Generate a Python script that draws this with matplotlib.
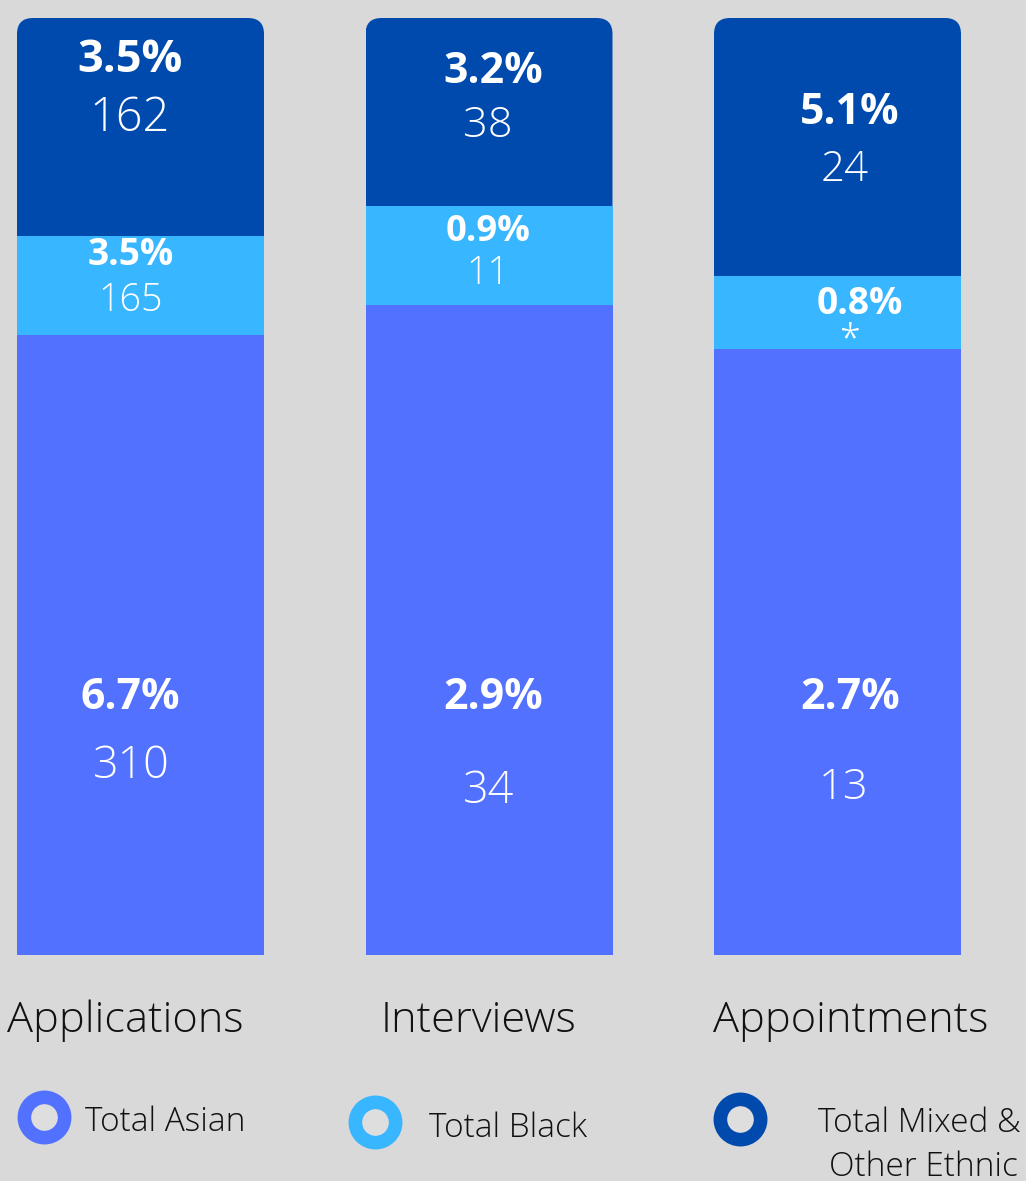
import matplotlib
matplotlib.use("Agg")
import matplotlib.pyplot as plt
from matplotlib.patches import FancyBboxPatch
from matplotlib.transforms import IdentityTransform
from matplotlib import font_manager

# ---------------- data ----------------
stages = ["Applications", "Interviews", "Appointments"]
groups = ["Total Asian", "Total Black", "Total Mixed &\nOther Ethnic"]
# visual segment heights (as drawn in the picture, each bar sums to the same height)
asian_height = [620, 650, 606]
black_height = [99, 99, 73]
mixed_height = [218, 188, 258]
# labels
asian_pct = ["6.7%", "2.9%", "2.7%"]
black_pct = ["3.5%", "0.9%", "0.8%"]
mixed_pct = ["3.5%", "3.2%", "5.1%"]
asian_n = ["310", "34", "13"]
black_n = ["165", "11", "*"]
mixed_n = ["162", "38", "24"]

# ---------------- style ----------------
BG = "#d9d9d9"
C_ASIAN = "#5271ff"
C_BLACK = "#38b6ff"
C_MIXED = "#004aad"
W, H, DPI = 1026, 1181, 100

avail = {f.name for f in font_manager.fontManager.ttflist}
FONT = "Open Sans" if "Open Sans" in avail else "DejaVu Sans"
plt.rcParams["font.family"] = [FONT, "DejaVu Sans"]

fig = plt.figure(figsize=(W / DPI, H / DPI), dpi=DPI, facecolor=BG)

# axes: bars span pixel rows 18..955, bar centres at 140.5 + 348.5*i
TOP, BOT = 18, 955
ax = fig.add_axes([0, (H - BOT) / H, 1, (BOT - TOP) / H])
ax.set_facecolor(BG)
ax.axis("off")
x0, step, bw = 140.5, 348.5, 247
ax.set_xlim(-x0 / step, (W - x0) / step)
total = [a + b + m for a, b, m in zip(asian_height, black_height, mixed_height)]
ax.set_ylim(0, max(total))

xs = list(range(len(stages)))
bwd = bw / step
b1 = ax.bar(xs, asian_height, width=bwd, color=C_ASIAN, linewidth=0)
bottom2 = asian_height
b2 = ax.bar(xs, black_height, width=bwd, bottom=bottom2, color=C_BLACK, linewidth=0)
bottom3 = [a + b for a, b in zip(asian_height, black_height)]
b3 = ax.bar(xs, mixed_height, width=bwd, bottom=bottom3, color=C_MIXED, linewidth=0)

# round top corners via a clip path in pixel coordinates
fig.canvas.draw()
for rect in b3:
    bb = rect.get_window_extent()
    clip = FancyBboxPatch((bb.x0, bb.y0 - 40), bb.width, bb.height + 40,
                          boxstyle="round,pad=0,rounding_size=16",
                          transform=IdentityTransform())
    rect.set_clip_path(clip)


def py(p):
    """pixel row (from top) -> data y"""
    return BOT - p


def px(p):
    return (p - x0) / step


WHITE = "white"
# label layout (pixel positions): (x centre, baseline, cap height)
lay_mixed_pct = [(130, 72, 32.3), (493, 83, 30.5), (850, 124, 30.5)]
lay_mixed_n = [(130, 131, 33.5), (488, 137, 31), (845, 181, 30)]
lay_black_pct = [(131, 265, 26.5), (488, 241, 26), (860, 314, 26.5)]
lay_black_n = [(131, 311, 27), (488, 284, 27), (849, 350, 27)]
lay_asian_pct = [(130, 709, 30.5), (493, 709, 30.5), (850, 709, 30.5)]
lay_asian_n = [(131, 778, 32), (489, 803, 32), (844, 799, 31)]


def put(texts, lay, weight):
    for t, (x, y, s) in zip(texts, lay):
        ax.text(px(x), py(y), t, ha="center", va="baseline", color=WHITE,
                fontsize=s / 0.714 / 1.389, fontweight=weight)


put(mixed_pct, lay_mixed_pct, "bold")
put(mixed_n, lay_mixed_n, "light")
put(black_pct, lay_black_pct, "bold")
put(black_n, lay_black_n, "light")
put(asian_pct, lay_asian_pct, "bold")
put(asian_n, lay_asian_n, "light")

# overlay axes in pixel coordinates for category labels and legend
ov = fig.add_axes([0, 0, 1, 1], facecolor="none")
ov.set_xlim(0, W)
ov.set_ylim(H, 0)
ov.axis("off")

cat_x = [125.5, 479, 850.5]
for name, x in zip(stages, cat_x):
    ov.text(x, 1031.5, name, ha="center", va="baseline", color="#111111",
            fontsize=31 / 0.714 / 1.389, fontweight="light")

ring_xy = [(44, 1117), (375, 1122), (740, 1119)]
ring_col = [C_ASIAN, C_BLACK, C_MIXED]
for (x, y), c in zip(ring_xy, ring_col):
    ov.plot([x], [y], marker="o", markersize=29.0, markerfacecolor="#dedede",
            markeredgecolor=c, markeredgewidth=9.8, linestyle="none")

leg_fs = 23.8 / 0.714 / 1.389
ov.text(85, 1130.7, groups[0], ha="left", va="baseline", color="#111111",
        fontsize=leg_fs, fontweight="light")
ov.text(429, 1136.7, groups[1], ha="left", va="baseline", color="#111111",
        fontsize=leg_fs, fontweight="light")
l1, l2 = groups[2].split("\n")
ov.text(1021, 1131.7, l1, ha="right", va="baseline", color="#111111",
        fontsize=leg_fs, fontweight="light")
ov.text(1018, 1176, l2, ha="right", va="baseline", color="#111111",
        fontsize=leg_fs, fontweight="light")

fig.savefig("out.png", dpi=DPI, facecolor=BG)
